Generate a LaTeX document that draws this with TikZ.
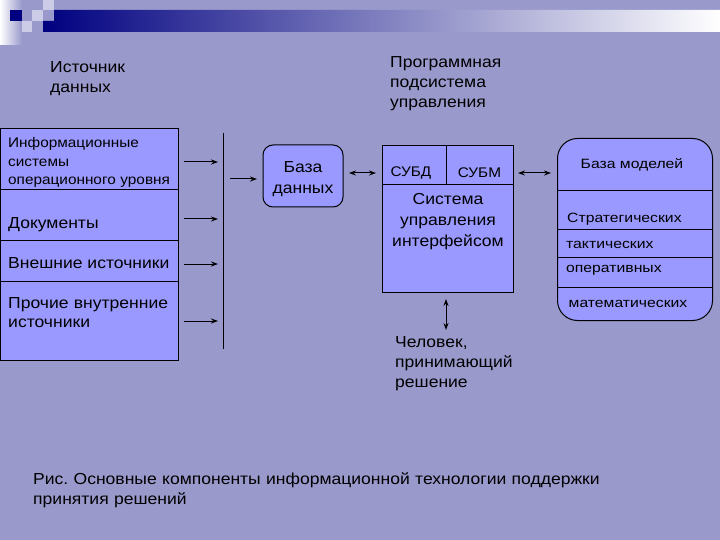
\documentclass[tikz,border=0pt]{standalone}
\usepackage{fontspec}
\setmainfont{Liberation Sans}[FakeStretch=1.1]
\newfontfamily\widefont{Liberation Sans}[FakeStretch=1.17]
\usetikzlibrary{arrows.meta}
\frenchspacing
\definecolor{bg}{HTML}{9999CC}
\definecolor{boxfill}{HTML}{9999FF}
\definecolor{navyc}{HTML}{000080}
\definecolor{lightsq}{HTML}{CCCCE6}
\begin{document}
\begin{tikzpicture}[x=1bp,y=-1bp,
  box/.style={draw=black, line width=1bp, fill=boxfill, inner sep=0pt},
  divider/.style={draw=black, line width=1bp},
  conn/.style={line width=1bp, -{Stealth[length=7bp,width=5bp]}},
  dconn/.style={line width=1bp, {Stealth[length=7bp,width=5bp]}-{Stealth[length=7bp,width=5bp]}},
  txt/.style={inner sep=0pt, font=\fontsize{16}{20}\selectfont},
  small/.style={inner sep=0pt, font=\fontsize{14}{18.5}\selectfont},
  mtxt/.style={inner sep=0pt, font=\widefont\fontsize{13.5}{16}\selectfont}]
% background
\fill[bg] (0,0) rectangle (720,540);
\useasboundingbox (0,0) rectangle (720,540);
% header decoration
\shade[left color=white, right color=bg] (0,0) rectangle (22,45);
\fill[navyc] (10,10) rectangle (22,21);
\fill[lightsq] (22,21) rectangle (32,32);
\fill[lightsq] (32,10) rectangle (43,21);
\fill[lightsq] (43,0) rectangle (54,10);
\shade[left color=navyc, middle color=bg, right color=white]
  (43,21) -- (54,21) -- (54,10) -- (720,10) -- (720,32) -- (43,32) -- cycle;

% titles
\node[txt, anchor=base west, align=left, text width=120bp] (srclbl) at (50,73) {Источник\\данных};
\node[txt, anchor=base west, align=left, text width=150bp] (prglbl) at (390,68) {Программная\\подсистема\\управления};

% source box
\node[box, anchor=north west, minimum width=178bp, minimum height=232bp] (src) at (0,128) {};
\draw[divider] (0,190) -- (178,190);
\draw[divider] (0,241) -- (178,241);
\draw[divider] (0,281) -- (178,281);
\node[small, anchor=base west, align=left, text width=170bp] (s1) at (8,148) {Информационные\\системы\\операционного уровня};
\node[txt, anchor=base west] (s2) at (8,229) {Документы};
\node[txt, anchor=base west] (s3) at (8,269) {Внешние источники};
\node[txt, anchor=base west, align=left, text width=170bp] (s4) at (8,308) {Прочие внутренние\\источники};

% bus line
\coordinate (busT) at (223,133);
\coordinate (busB) at (223,349);
\draw[line width=1bp] (busT) -- (busB);
\coordinate (a1s) at (184,162); \coordinate (a1e) at (218,162);
\coordinate (a2s) at (184,219); \coordinate (a2e) at (218,219);
\coordinate (a3s) at (184,264); \coordinate (a3e) at (218,264);
\coordinate (a4s) at (184,321); \coordinate (a4e) at (218,321);
\draw[conn] (a1s) -- (a1e);
\draw[conn] (a2s) -- (a2e);
\draw[conn] (a3s) -- (a3e);
\draw[conn] (a4s) -- (a4e);

% database
\node[box, rounded corners=10bp, minimum width=80bp, minimum height=62bp] (db) at (303,176) {};
\node[txt, anchor=base, align=center, text width=80bp, font=\fontsize{16}{21.5}\selectfont] (dbt) at (303,172.5) {База\\данных};
\coordinate (b0s) at (230,179); \coordinate (b0e) at (257,179);
\draw[conn] (b0s) -- (b0e);

% control system
\node[box, anchor=north west, minimum width=131bp, minimum height=147bp] (sys) at (382,145) {};
\draw[divider] (382,185) -- (513,185);
\draw[divider] (446,145) -- (446,185);
\node[small, anchor=base] (subd) at (411,176.5) {СУБД};
\node[small, anchor=base] (subm) at (479.5,177.5) {СУБМ};
\node[txt, anchor=base, align=center, text width=130bp, font=\fontsize{16}{21}\selectfont] (syst) at (448,205) {Система\\управления\\интерфейсом};
\coordinate (c1s) at (349,173); \coordinate (c1e) at (376,173);
\draw[dconn] (c1s) -- (c1e);

% model base
\node[box, rounded corners=20bp, anchor=north west, minimum width=155bp, minimum height=182bp] (mb) at (557,138) {};
\draw[divider] (557,191) -- (712,191);
\draw[divider] (557,230) -- (712,230);
\draw[divider] (557,258) -- (712,258);
\draw[divider] (557,287) -- (712,287);
\node[mtxt, anchor=base] (m0) at (632,169) {База моделей};
\node[mtxt, anchor=base west] (m1) at (567,223) {Стратегических};
\node[mtxt, anchor=base west] (m2) at (566,249) {тактических};
\node[mtxt, anchor=base west] (m3) at (566,273) {оперативных};
\node[mtxt, anchor=base] (m4) at (628,307) {математических};
\coordinate (c2s) at (518,173); \coordinate (c2e) at (551,173);
\draw[dconn] (c2s) -- (c2e);

% human
\coordinate (h1s) at (446,299); \coordinate (h1e) at (446,330);
\draw[dconn] (h1s) -- (h1e);
\node[txt, anchor=base west, align=left, text width=150bp, font=\fontsize{16}{20.5}\selectfont] (human) at (395,347) {Человек,\\принимающий\\решение};

% caption
\node[txt, anchor=base west, align=left, text width=640bp, font=\fontsize{16}{21}\selectfont] (cap) at (33,484) {Рис. Основные компоненты информационной технологии поддержки\\принятия решений};
\end{tikzpicture}
\end{document}
